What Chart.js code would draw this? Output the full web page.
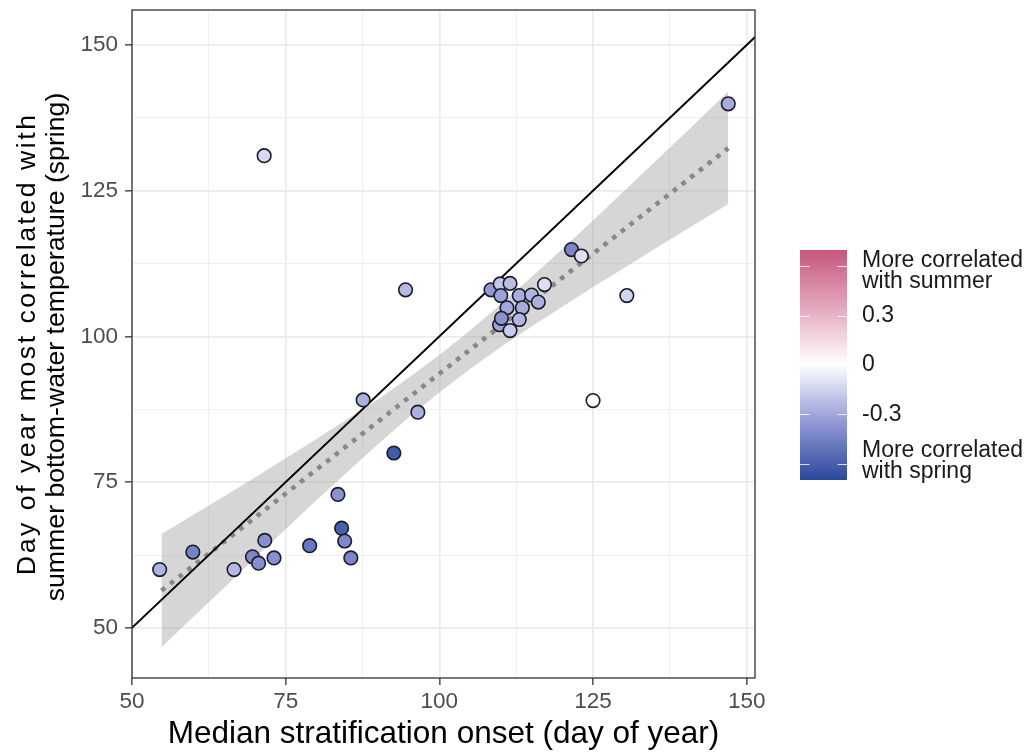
<!DOCTYPE html>
<html>
<head>
<meta charset="utf-8">
<script src="https://cdn.jsdelivr.net/npm/chart.js@4.4.1/dist/chart.umd.min.js"></script>
<style>
  html, body { margin: 0; padding: 0; background: #ffffff; }
  #wrap { position: relative; width: 1029px; height: 753px; }
</style>
</head>
<body>
<div id="wrap"><canvas id="c" width="1029" height="753"></canvas></div>
<script>
// Median stratification onset (day of year) for each site
const onsetDay = [54.5, 59.9, 66.6, 69.6, 70.6, 71.6, 73.1, 71.5, 78.9, 83.5, 84.1, 84.6, 85.6,
  87.6, 92.6, 94.5, 96.5, 108.4, 109.9, 111.5, 110.0, 113.0, 115.0, 116.1, 117.1, 111.0, 113.5,
  109.8, 110.1, 113.0, 111.5, 121.5, 123.1, 125.0, 130.5, 147.0];
// Day of year most correlated with summer bottom-water temperature
const peakDay = [60.0, 63.0, 60.0, 62.2, 61.1, 65.0, 62.0, 131.0, 64.1, 72.9, 67.1, 64.9, 62.0,
  89.1, 80.0, 108.0, 87.0, 108.0, 109.0, 109.1, 107.0, 107.0, 107.1, 105.9, 108.9, 104.9, 104.9,
  102.0, 103.1, 102.9, 101.0, 114.9, 113.8, 89.0, 107.0, 139.9];
// Correlation (negative = spring, positive = summer) used for the fill colour
const corrValue = [-0.26, -0.44, -0.24, -0.42, -0.39, -0.39, -0.39, -0.13, -0.49, -0.38, -0.60, -0.42, -0.43,
  -0.27, -0.62, -0.23, -0.27, -0.35, -0.19, -0.22, -0.32, -0.28, -0.25, -0.27, -0.11, -0.30, -0.28,
  -0.31, -0.38, -0.25, -0.18, -0.43, -0.11, 0.03, -0.14, -0.28];

// Linear fit and its confidence band
const fitX = [54.8, 147.0];
const fitY = [56.4, 132.3];
const bandX    = [54.8, 60, 65, 70, 75, 80, 85, 90, 95, 100, 105, 110, 115, 120, 125, 130, 135, 140, 147.0];
const bandLow  = [46.7, 51.9, 56.9, 62.0, 66.9, 71.9, 76.7, 81.5, 86.1, 90.4, 94.4, 98.2, 101.7, 105.1, 108.5, 111.7, 115.0, 118.2, 122.7];
const bandHigh = [66.1, 69.4, 72.6, 75.8, 79.1, 82.4, 85.8, 89.2, 92.9, 96.8, 101.0, 105.5, 110.2, 115.0, 119.9, 124.9, 129.9, 134.9, 142.0];

// 1:1 reference line
const oneToOne = [50, 160];

// Axis titles
const xTitle = 'Median stratification onset (day of year)';
const yTitle = ['Day of year most correlated with', 'summer bottom-water temperature (spring)'];

// Colour bar
const colorLimit = 0.7;
const colorBreaks = [0.6, 0.3, 0, -0.3, -0.6];
const colorLabels = [["More correlated", "with summer"], ["0.3"], ["0"], ["-0.3"], ["More correlated", "with spring"]];

const FONT = "'Liberation Sans', Arial, Helvetica, sans-serif";

// diverging ramp: white in the middle, blue for negative, pink for positive
const NEG_STOPS = [[255, 255, 255], [146, 152, 214], [42, 72, 156]];
const POS_STOPS = [[255, 255, 255], [228, 168, 190], [198, 86, 126]];
function ramp(stops, t) {
  const seg = t * (stops.length - 1);
  const i = Math.min(Math.floor(seg), stops.length - 2);
  const f = seg - i;
  const a = stops[i], b = stops[i + 1];
  return a.map((v, k) => Math.round(v + (b[k] - v) * f));
}
function corrColor(v) {
  const t = Math.min(1, Math.abs(v) / colorLimit);
  const c = ramp(v < 0 ? NEG_STOPS : POS_STOPS, t);
  return `rgb(${c[0]},${c[1]},${c[2]})`;
}

const points = onsetDay.map((x, i) => ({ x, y: peakDay[i] }));
const fitLine = fitX.map((x, i) => ({ x, y: fitY[i] }));
const bandUpper = bandX.map((x, i) => ({ x, y: bandHigh[i] }));
const bandLower = bandX.map((x, i) => ({ x, y: bandLow[i] }));
const refLine = oneToOne.map(v => ({ x: v, y: v }));

const isMajor = v => Math.abs(v % 25) < 1e-6;

// frame around the panel, the rotated y title and the colour bar legend
const panelAndLegend = {
  id: 'panelAndLegend',
  afterDatasetsDraw(chart) {
    const { ctx, chartArea: a } = chart;
    ctx.save();
    ctx.strokeStyle = '#333333';
    ctx.lineWidth = 1.3;
    ctx.strokeRect(a.left, a.top, a.right - a.left, a.bottom - a.top);
    ctx.restore();
  },
  afterDraw(chart) {
    const { ctx, chartArea: a } = chart;

    // y axis title, two lines
    ctx.save();
    ctx.translate(0, (a.top + a.bottom) / 2 + 1);
    ctx.rotate(-Math.PI / 2);
    ctx.fillStyle = '#000000';
    ctx.font = `26.7px ${FONT}`;
    ctx.textAlign = 'center';
    ctx.textBaseline = 'middle';
    ctx.letterSpacing = '2.5px';
    ctx.fillText(yTitle[0], 1.2, 28);
    ctx.letterSpacing = '0px';
    ctx.fillText(yTitle[1], -2, 57);
    ctx.restore();

    // colour bar
    const barL = 800, barR = 847, barT = 250, barB = 480;
    const yOf = v => (barT + barB) / 2 - v / colorLimit * (barB - barT) / 2;
    ctx.save();
    const g = ctx.createLinearGradient(0, barT, 0, barB);
    const n = 20;
    for (let i = 0; i <= n; i++) {
      const v = colorLimit - 2 * colorLimit * i / n;
      g.addColorStop(i / n, corrColor(v));
    }
    ctx.fillStyle = g;
    ctx.fillRect(barL, barT, barR - barL, barB - barT);
    ctx.strokeStyle = 'rgba(255,255,255,0.8)';
    ctx.lineWidth = 1.2;
    const tl = (barR - barL) / 5;
    colorBreaks.forEach(v => {
      const y = Math.round(yOf(v)) + 0.5;
      ctx.beginPath();
      ctx.moveTo(barL, y); ctx.lineTo(barL + tl, y);
      ctx.moveTo(barR - tl, y); ctx.lineTo(barR, y);
      ctx.stroke();
    });
    ctx.fillStyle = '#1a1a1a';
    ctx.font = `23px ${FONT}`;
    ctx.textAlign = 'left';
    ctx.textBaseline = 'middle';
    const lh = 21.5;
    colorBreaks.forEach((v, i) => {
      const lines = colorLabels[i];
      const y = yOf(v);
      let y0 = y - (lines.length - 1) * lh / 2;
      if (lines.length > 1) y0 += v > 0 ? 4.5 : -2.5;
      lines.forEach((t, k) => ctx.fillText(t, 862, y0 + k * lh));
    });
    ctx.restore();
  }
};

new Chart(document.getElementById('c'), {
  type: 'scatter',
  data: {
    datasets: [
      {
        label: 'sites', data: points, order: 0,
        backgroundColor: corrValue.map(corrColor),
        borderColor: '#1b1b28', borderWidth: 1.6,
        pointRadius: 6.8, pointHoverRadius: 6.8
      },
      {
        label: '1:1', data: refLine, order: 1, showLine: true,
        borderColor: '#000000', borderWidth: 1.9, pointRadius: 0, fill: false
      },
      {
        label: 'fit', data: fitLine, order: 2, showLine: true,
        borderColor: '#888888', borderWidth: 4.6, borderDash: [4.6, 6.4], borderCapStyle: 'butt',
        pointRadius: 0, fill: false
      },
      {
        label: 'band upper', data: bandUpper, order: 3, showLine: true,
        borderWidth: 0, borderColor: 'rgba(0,0,0,0)', pointRadius: 0,
        fill: '+1', backgroundColor: 'rgba(153,153,153,0.4)'
      },
      {
        label: 'band lower', data: bandLower, order: 4, showLine: true,
        borderWidth: 0, borderColor: 'rgba(0,0,0,0)', pointRadius: 0, fill: false
      }
    ]
  },
  options: {
    responsive: false,
    animation: false,
    events: [],
    layout: { padding: { top: 10, right: 274, bottom: 0, left: 0 } },
    plugins: { legend: { display: false }, tooltip: { enabled: false } },
    scales: {
      x: {
        type: 'linear', min: 50, max: 151.35,
        border: { display: false },
        grid: {
          color: c => isMajor(c.tick.value) ? '#ebebeb' : '#efefef',
          lineWidth: c => isMajor(c.tick.value) ? 1.7 : 1.0,
          tickColor: c => isMajor(c.tick.value) ? '#333333' : 'rgba(0,0,0,0)',
          tickLength: 7, tickWidth: 1.3
        },
        ticks: {
          stepSize: 12.5, includeBounds: false, autoSkip: false, maxRotation: 0,
          callback: v => isMajor(v) ? String(v) : '',
          color: '#4d4d4d', font: { family: FONT, size: 22.5 }, padding: 3
        },
        title: {
          display: true, text: xTitle,
          color: '#000000', font: { family: FONT, size: 31.5 }, padding: { top: 0, bottom: 0 }
        },
        afterFit(s) { s.height = 75; s.paddingLeft = 0; s.paddingRight = 0; }
      },
      y: {
        type: 'linear', min: 41.4, max: 156,
        border: { display: false },
        grid: {
          color: c => isMajor(c.tick.value) ? '#ebebeb' : '#efefef',
          lineWidth: c => isMajor(c.tick.value) ? 1.7 : 1.0,
          tickColor: c => isMajor(c.tick.value) ? '#333333' : 'rgba(0,0,0,0)',
          tickLength: 7, tickWidth: 1.3
        },
        ticks: {
          stepSize: 12.5, includeBounds: false, autoSkip: false,
          callback: v => isMajor(v) ? String(v) : '',
          color: '#4d4d4d', font: { family: FONT, size: 22.5 }, padding: 7
        },
        title: { display: false },
        afterFit(s) { s.width = 132; s.paddingTop = 0; s.paddingBottom = 0; }
      }
    }
  },
  plugins: [panelAndLegend]
});
</script>
</body>
</html>
